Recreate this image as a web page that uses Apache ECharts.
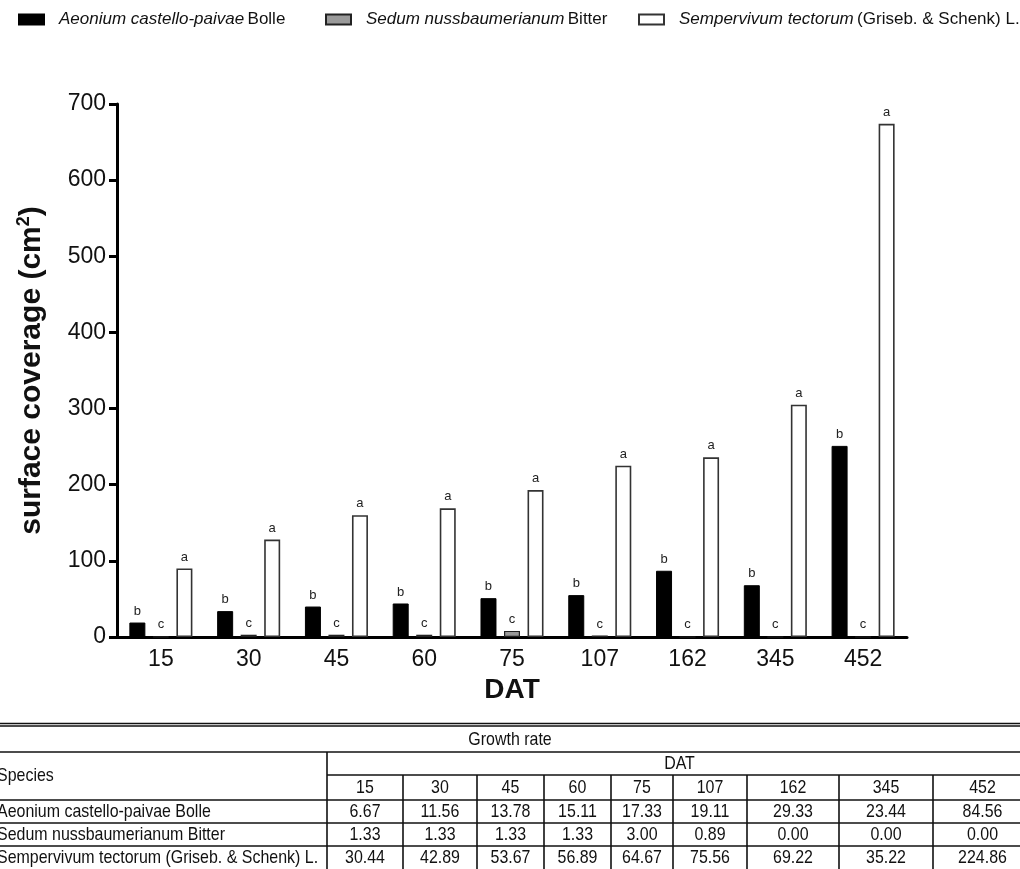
<!DOCTYPE html>
<html>
<head>
<meta charset="utf-8">
<script src="https://cdn.jsdelivr.net/npm/echarts@6/dist/echarts.min.js"></script>
<style>
html,body{margin:0;padding:0;background:#fff;}
#chart{width:1020px;height:869px;}
</style>
</head>
<body>
<div id="chart"></div>
<script>
// ---------- data ----------
const categories = ['15', '30', '45', '60', '75', '107', '162', '345', '452'];
const speciesNames = ['Aeonium castello-paivae Bolle', 'Sedum nussbaumerianum Bitter', 'Sempervivum tectorum (Griseb. & Schenk) L.'];
const speciesItalic = ['Aeonium castello-paivae', 'Sedum nussbaumerianum', 'Sempervivum tectorum'];
const speciesAuthor = ['Bolle', 'Bitter', '(Griseb. & Schenk) L.'];
const aeoniumCoverage = [19, 34, 40, 44, 51, 55, 87, 68, 251];
const sedumCoverage = [0.5, 3, 3, 3, 8, 2, 0, 0, 0];
const sempervivumCoverage = [90, 128, 160, 169, 193, 225, 236, 305, 674];
const aeoniumLetters = ['b', 'b', 'b', 'b', 'b', 'b', 'b', 'b', 'b'];
const sedumLetters = ['c', 'c', 'c', 'c', 'c', 'c', 'c', 'c', 'c'];
const sempervivumLetters = ['a', 'a', 'a', 'a', 'a', 'a', 'a', 'a', 'a'];
const yTicks = [0, 100, 200, 300, 400, 500, 600, 700];

// growth-rate table
const tableTitle = 'Growth rate';
const tableGroupHeader = 'DAT';
const tableSpeciesHeader = 'Species';
const tableSpecies = ['Aeonium castello-paivae Bolle', 'Sedum nussbaumerianum Bitter', 'Sempervivum tectorum (Griseb. & Schenk) L.'];
const rateAeonium = ['6.67', '11.56', '13.78', '15.11', '17.33', '19.11', '29.33', '23.44', '84.56'];
const rateSedum = ['1.33', '1.33', '1.33', '1.33', '3.00', '0.89', '0.00', '0.00', '0.00'];
const rateSempervivum = ['30.44', '42.89', '53.67', '56.89', '64.67', '75.56', '69.22', '35.22', '224.86'];

// ---------- layout ----------
const FONT = "'Liberation Sans', Arial, sans-serif";
const TFONT = "'Liberation Sans', sans-serif";
const colX = [327, 403, 477, 544, 611, 673, 747, 839, 933, 1032];
const tableLeft = -12, tableRight = 1032;
const rowY = {top: 725, r1: 752, r2: 775, r3: 800, r4: 823, r5: 846, bottom: 869};
const LINE = '#111';

const chart = echarts.init(document.getElementById('chart'));

function line(x1, y1, x2, y2, w) {
  return {type: 'line', shape: {x1, y1, x2, y2}, style: {stroke: LINE, lineWidth: w || 1.6}, silent: true};
}
function txt(text, x, y, align) {
  return {type: 'text', x, y, scaleX: 0.84, scaleY: 1,
    style: {text, font: '19px ' + TFONT, fill: '#111', align: align || 'center', verticalAlign: 'middle'}, silent: true};
}

const graphics = [];
graphics.push(line(tableLeft, rowY.top - 1.5, tableRight, rowY.top - 1.5, 1.4));
graphics.push(line(tableLeft, rowY.top + 1, tableRight, rowY.top + 1, 1.4));
graphics.push(line(tableLeft, rowY.r1, tableRight, rowY.r1));
graphics.push(line(colX[0], rowY.r2, tableRight, rowY.r2));
graphics.push(line(tableLeft, rowY.r3, tableRight, rowY.r3));
graphics.push(line(tableLeft, rowY.r4, tableRight, rowY.r4));
graphics.push(line(tableLeft, rowY.r5, tableRight, rowY.r5));
graphics.push(line(colX[0], rowY.r1, colX[0], rowY.bottom));
for (let i = 1; i < colX.length - 1; i++) graphics.push(line(colX[i], rowY.r2, colX[i], rowY.bottom));
graphics.push(txt(tableTitle, (tableLeft + tableRight) / 2, (rowY.top + rowY.r1) / 2 + 1));
graphics.push(txt(tableGroupHeader, (colX[0] + tableRight) / 2, (rowY.r1 + rowY.r2) / 2));
graphics.push(txt(tableSpeciesHeader, -3, (rowY.r1 + rowY.r3) / 2, 'left'));
categories.forEach((c, i) => graphics.push(txt(c, (colX[i] + colX[i + 1]) / 2, (rowY.r2 + rowY.r3) / 2)));
const rateRows = [rateAeonium, rateSedum, rateSempervivum];
const rowTops = [rowY.r3, rowY.r4, rowY.r5];
const rowBots = [rowY.r4, rowY.r5, rowY.bottom];
rateRows.forEach((row, r) => {
  const cy = (rowTops[r] + rowBots[r]) / 2;
  graphics.push(txt(tableSpecies[r], -3, cy, 'left'));
  row.forEach((v, i) => graphics.push(txt(v, (colX[i] + colX[i + 1]) / 2, cy)));
});

const barStyles = [
  {color: '#000', borderColor: '#000', borderWidth: 1},
  {color: '#9a9a9a', borderColor: '#222', borderWidth: 1.2},
  {color: '#fff', borderColor: '#333', borderWidth: 1.6}
];
const values = [aeoniumCoverage, sedumCoverage, sempervivumCoverage];
const letters = [aeoniumLetters, sedumLetters, sempervivumLetters];
const legendLeft = [13, 320, 633];

const series = speciesNames.map((name, k) => ({
  name,
  type: 'bar',
  barWidth: 16,
  barGap: '47%',
  data: values[k],
  itemStyle: barStyles[k],
  label: {
    show: true,
    position: 'top',
    distance: 5,
    fontSize: 13,
    fontFamily: FONT,
    color: '#222',
    formatter: p => letters[k][p.dataIndex]
  }
}));

const legends = speciesNames.map((name, k) => ({
  data: [name],
  left: legendLeft[k],
  top: 6,
  itemWidth: 25,
  itemHeight: 10,
  icon: 'rect',
  formatter: () => '{i|' + speciesItalic[k] + '} {n|' + speciesAuthor[k] + '}',
  textStyle: {
    padding: [0, 0, 0, 10],
    rich: {
      i: {fontStyle: 'italic', fontSize: 17, fontFamily: FONT, color: '#111'},
      n: {fontSize: 17, fontFamily: FONT, color: '#111'}
    }
  }
}));

chart.setOption({
  animation: false,
  backgroundColor: '#fff',
  legend: legends,
  grid: {left: 117, right: 113, top: 104, bottom: 232, containLabel: false},
  xAxis: {
    type: 'category',
    data: categories,
    name: 'DAT',
    nameLocation: 'middle',
    nameGap: 38,
    nameTextStyle: {fontSize: 28, fontWeight: 'bold', fontFamily: FONT, color: '#111'},
    axisLine: {lineStyle: {color: '#000', width: 3}},
    axisTick: {show: false},
    axisLabel: {fontSize: 23, fontFamily: FONT, color: '#111', margin: 11}
  },
  yAxis: {
    type: 'value',
    min: yTicks[0],
    max: yTicks[yTicks.length - 1],
    interval: 100,
    name: 'surface coverage (cm{sup|2})',
    nameLocation: 'middle',
    nameGap: 68,
    nameTextStyle: {
      fontSize: 30, fontWeight: 'bold', fontFamily: FONT, color: '#111',
      rich: {sup: {fontSize: 18, fontWeight: 'bold', fontFamily: FONT, color: '#111', verticalAlign: 'top', lineHeight: 34}}
    },
    axisLine: {show: true, lineStyle: {color: '#000', width: 3}},
    axisTick: {show: true, length: 8, lineStyle: {color: '#000', width: 3}},
    axisLabel: {fontSize: 23, fontFamily: FONT, color: '#111', margin: 11},
    splitLine: {show: false}
  },
  series,
  graphic: graphics
});
</script>
</body>
</html>
